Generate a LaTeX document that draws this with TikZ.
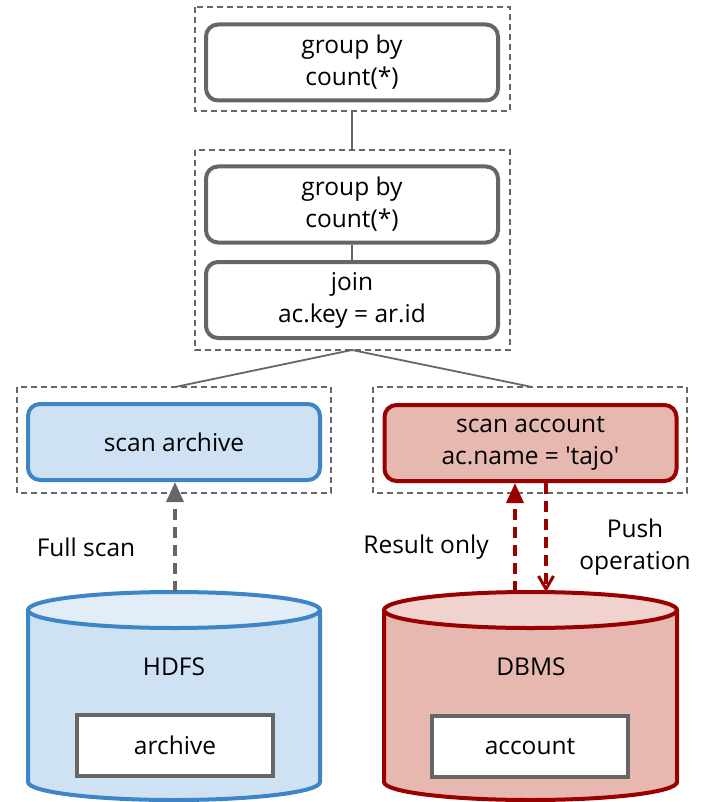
\documentclass[tikz,border=0pt]{standalone}
\usepackage{fontspec}
\setmainfont{Open Sans}
\usetikzlibrary{arrows.meta}
\definecolor{boxgray}{HTML}{666666}
\definecolor{hdfsline}{HTML}{3D85C6}
\definecolor{hdfsfill}{HTML}{CFE2F3}
\definecolor{hdfstop}{HTML}{E2EDF8}
\definecolor{dbline}{HTML}{990000}
\definecolor{dbfill}{HTML}{E6B8AF}
\definecolor{dbtop}{HTML}{F0D3CE}
\tikzset{
  txt/.style={font=\fontsize{24.5pt}{32pt}\selectfont},
  op/.style={txt, draw=boxgray, line width=4pt, rounded corners=12pt, fill=white,
    minimum width=292pt, minimum height=76pt, align=center, inner sep=0pt},
  scanhdfs/.style={op, draw=hdfsline, fill=hdfsfill},
  scandb/.style={op, draw=dbline, fill=dbfill},
  stage/.style={draw=boxgray, line width=1.5pt, dash pattern=on 6pt off 4pt},
  link/.style={draw=boxgray, line width=1.8pt},
  label/.style={txt, align=center, inner sep=0pt},
  tablebox/.style={txt, draw=boxgray, line width=4pt, fill=white, minimum width=196pt,
    minimum height=61pt, inner sep=0pt},
  flow/.style={line width=3.5pt, dash pattern=on 11pt off 7pt},
}
\begin{document}
\begin{tikzpicture}[x=1pt, y=-1pt]
\useasboundingbox (0,0) rectangle (701,802);

% stage frames
\draw[stage] (195,7) rectangle (510,111);
\draw[stage] (195,150) rectangle (510,350);
\draw[stage] (17,387) rectangle (331,493);
\draw[stage] (373,387) rectangle (687,493);

% operators
\node[op] (gb1) at (352,62.5) {group by\\count(*)};
\node[op] (gb2) at (352,204.5) {group by\\count(*)};
\node[op] (join) at (352,300) {join\\ac.key = ar.id};
\node[scanhdfs] (sar) at (174,442) {scan archive};
\node[scandb] (sac) at (530.5,443) {scan account\\ac.name = \textquotesingle tajo\textquotesingle};

% plan edges
\coordinate (s1b) at (352,111);
\coordinate (s2t) at (352,150);
\coordinate (s2b) at (352,350);
\coordinate (s3t) at (175,387);
\coordinate (s4t) at (532,387);
\draw[link] (s1b) -- (s2t);
\draw[link] (gb2) -- (join);
\draw[link] (s2b) -- (s3t);
\draw[link] (s2b) -- (s4t);

% HDFS cylinder
\fill[hdfsfill] (28,610) rectangle (320,782);
\fill[hdfsfill] (174,782) ellipse [x radius=146, y radius=18];
\draw[hdfsline, line width=4pt] (28,610) -- (28,782)
  arc[start angle=180, end angle=0, x radius=146, y radius=18] -- (320,610);
\draw[hdfsline, line width=4pt, fill=hdfstop] (174,610) ellipse [x radius=146, y radius=18];
\coordinate (hdfstopc) at (175,592);
\node[label] (hdfs) at (174,667) {HDFS};
\node[tablebox] (tarchive) at (175,745.5) {archive};

% DBMS cylinder
\fill[dbfill] (384,610) rectangle (677,782);
\fill[dbfill] (530.5,782) ellipse [x radius=146.5, y radius=18];
\draw[dbline, line width=4pt] (384,610) -- (384,782)
  arc[start angle=180, end angle=0, x radius=146.5, y radius=18] -- (677,610);
\draw[dbline, line width=4pt, fill=dbtop] (530.5,610) ellipse [x radius=146.5, y radius=18];
\coordinate (dbup) at (515,592);
\coordinate (dbdown) at (546,592);
\node[label] (dbms) at (531,667) {DBMS};
\node[tablebox] (taccount) at (530,746.5) {account};

% data flows
\draw[flow, boxgray, -{Triangle[length=20pt, width=17pt]}] (hdfstopc) -- (sar.south -| hdfstopc);
\draw[flow, dbline, -{Triangle[length=20pt, width=17pt]}] (dbup) -- (sac.south -| dbup);
\draw[flow, dbline, -{Straight Barb[length=13pt, width=15pt, line width=3pt]}] (sac.south -| dbdown) -- (dbdown);

\node[label] (lfull) at (86,547) {Full scan};
\node[label] (lresult) at (426,547) {Result only};
\node[label] (lpush) at (635,547) {Push\\operation};
\end{tikzpicture}
\end{document}
